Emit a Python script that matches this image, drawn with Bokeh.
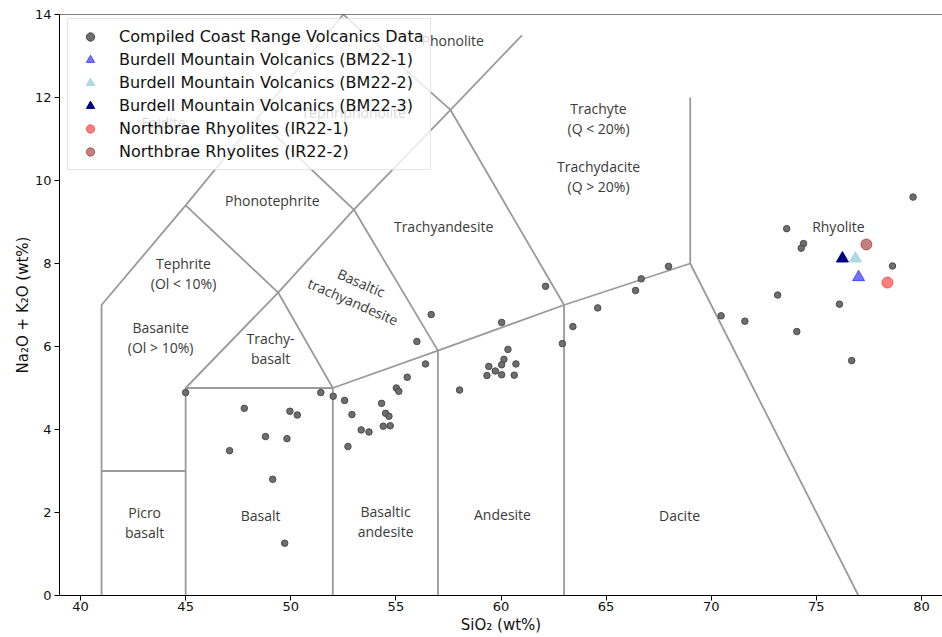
from bokeh.plotting import figure
from bokeh.models import Legend, LegendItem, FixedTicker, Span
from bokeh.core.properties import value
from bokeh.embed import file_html
from bokeh.resources import INLINE

# ---- data: Compiled Coast Range Volcanics (SiO2, Na2O+K2O wt%) ----
coast_sio2 = [45.00, 47.79, 49.96, 50.31, 48.80, 49.82, 47.09, 49.14, 49.71,
              51.43, 52.02, 52.56, 52.91, 53.35, 53.72, 52.72, 54.32, 54.51,
              54.67, 54.40, 54.73, 55.02, 55.14, 55.54, 56.41, 56.00, 56.68,
              58.03, 60.03, 60.33, 60.14, 60.03, 60.71, 59.42, 59.73, 59.33,
              60.03, 60.63, 62.12, 62.92, 63.42, 64.60, 66.40, 66.67, 67.97,
              79.60, 73.59, 74.39, 74.28, 78.62, 73.16, 76.10, 70.47, 71.60,
              74.07, 76.68]
coast_alk = [4.89, 4.51, 4.44, 4.35, 3.83, 3.78, 3.49, 2.80, 1.26,
             4.89, 4.80, 4.70, 4.36, 3.99, 3.94, 3.59, 4.63, 4.39,
             4.32, 4.08, 4.09, 5.00, 4.92, 5.26, 5.58, 6.12, 6.77,
             4.95, 6.58, 5.93, 5.69, 5.56, 5.58, 5.52, 5.41, 5.30,
             5.32, 5.31, 7.45, 6.07, 6.48, 6.93, 7.35, 7.63, 7.93,
             9.60, 8.84, 8.48, 8.37, 7.94, 7.24, 7.02, 6.74, 6.61,
             6.36, 5.66]

bm1_sio2, bm1_alk = [77.01], [7.67]
bm2_sio2, bm2_alk = [76.86], [8.12]
bm3_sio2, bm3_alk = [76.24], [8.12]
ir1_sio2, ir1_alk = [78.38], [7.54]
ir2_sio2, ir2_alk = [77.38], [8.46]

# ---- TAS field boundaries (Le Bas et al. 1986) ----
boundary_x = [
    [41, 41, 45, 48.4, 52.5],
    [41, 45],
    [45, 45, 49.4, 53, 57.6, 61],
    [45, 52],
    [52, 52, 57, 63, 69, 69],
    [45, 49.4, 52],
    [48.4, 53, 57, 57],
    [52.5, 57.6, 63, 63],
    [69, 77],
]
boundary_y = [
    [0, 7, 9.4, 11.5, 14],
    [3, 3],
    [0, 5, 7.3, 9.3, 11.7, 13.5],
    [5, 5],
    [0, 5, 5.9, 7, 8, 12],
    [9.4, 7.3, 5],
    [11.5, 9.3, 5.9, 0],
    [14, 11.7, 7, 0],
    [8, 0],
]

field_names = ["Picro\nbasalt", "Basalt", "Basaltic\nandesite", "Andesite", "Dacite",
               "Rhyolite", "Trachyte\n(Q < 20%)", "Trachydacite\n(Q > 20%)",
               "Trachyandesite", "Phonotephrite", "Tephrite\n(Ol < 10%)",
               "Basanite\n(Ol > 10%)", "Trachy-\nbasalt", "Foidite",
               "Tephriphonolite", "Phonolite"]
field_x = [43.05, 48.57, 54.51, 60.07, 68.49, 76.05, 64.64, 64.64, 57.27, 49.12,
           44.90, 43.81, 49.04, 43.95, 52.99, 57.70]
field_y = [1.76, 1.93, 1.78, 1.95, 1.93, 8.89, 11.49, 10.10, 8.89, 9.52,
           7.76, 6.22, 5.95, 11.40, 11.64, 13.37]
rot_name, rot_x, rot_y = ["Basaltic\ntrachyandesite"], [53.16], [7.31]

x_ticks = [40, 45, 50, 55, 60, 65, 70, 75, 80]
y_ticks = [0, 2, 4, 6, 8, 10, 12, 14]

p = figure(width=942, height=637, x_range=(39, 81), y_range=(0, 14),
           output_backend="svg", toolbar_location=None,
           min_border_left=59, min_border_right=0, min_border_top=14,
           min_border_bottom=42)
p.xgrid.visible = False
p.ygrid.visible = False
p.outline_line_color = None
p.add_layout(Span(location=14, dimension="width", line_color="black", line_width=1))

p.xaxis.ticker = FixedTicker(ticks=x_ticks)
p.yaxis.ticker = FixedTicker(ticks=y_ticks)
p.xaxis.axis_label = "SiO\u2082 (wt%)"
p.yaxis.axis_label = "Na\u2082O + K\u2082O (wt%)"
for ax in (p.xaxis[0], p.yaxis[0]):
    ax.major_label_text_font = "DejaVu Sans"
    ax.major_label_text_font_size = "13px"
    ax.major_label_text_color = "#111111"
    ax.axis_label_text_font = "DejaVu Sans"
    ax.axis_label_text_font_size = "15px"
    ax.axis_label_text_font_style = "normal"
    ax.axis_label_text_color = "#111111"
    ax.minor_tick_line_color = None
    ax.major_tick_in = 0
    ax.major_tick_out = 5
    ax.axis_line_color = "black"
    ax.major_tick_line_color = "black"
p.xaxis[0].major_label_standoff = 1
p.xaxis[0].axis_label_standoff = 2
p.xaxis[0].axis_label_text_line_height = 0.9
p.xaxis[0].major_label_text_line_height = 0.9
p.yaxis[0].major_label_standoff = 3
p.yaxis[0].axis_label_standoff = 0

p.multi_line(xs=boundary_x, ys=boundary_y, line_color="#9a9a9a", line_width=1.8)

p.text(x=field_x, y=field_y, text=field_names, text_font=value("Open Sans"),
       text_font_size="14px", text_align="center", text_baseline="middle",
       text_color="#3a3a3a", text_line_height=1.08)
p.text(x=rot_x, y=rot_y, text=rot_name, angle=-0.41, text_font=value("Open Sans"),
       text_font_size="14px", text_align="center", text_baseline="middle",
       text_color="#3a3a3a", text_line_height=1.08)

r_coast = p.scatter(coast_sio2, coast_alk, marker="circle", size=6.5,
                    fill_color="#6e6e6e", line_color="#4a4a4a", line_width=1)
r_bm1 = p.scatter(bm1_sio2, bm1_alk, marker="triangle", size=12,
                  fill_color="blue", fill_alpha=0.55, line_color="blue", line_alpha=0.55)
r_bm2 = p.scatter(bm2_sio2, bm2_alk, marker="triangle", size=12,
                  fill_color="lightblue", line_color="lightblue")
r_bm3 = p.scatter(bm3_sio2, bm3_alk, marker="triangle", size=12,
                  fill_color="navy", line_color="navy")
r_ir1 = p.scatter(ir1_sio2, ir1_alk, marker="circle", size=11,
                  fill_color="red", fill_alpha=0.5, line_color="red", line_alpha=0.5)
r_ir2 = p.scatter(ir2_sio2, ir2_alk, marker="circle", size=11,
                  fill_color="#8b0000", fill_alpha=0.5, line_color="#8b0000", line_alpha=0.5)

legend = Legend(items=[
    LegendItem(label="Compiled Coast Range Volcanics Data", renderers=[r_coast]),
    LegendItem(label="Burdell Mountain Volcanics (BM22-1)", renderers=[r_bm1]),
    LegendItem(label="Burdell Mountain Volcanics (BM22-2)", renderers=[r_bm2]),
    LegendItem(label="Burdell Mountain Volcanics (BM22-3)", renderers=[r_bm3]),
    LegendItem(label="Northbrae Rhyolites (IR22-1)", renderers=[r_ir1]),
    LegendItem(label="Northbrae Rhyolites (IR22-2)", renderers=[r_ir2]),
], location=(8, 425))
legend.margin = 0
legend.padding = 7
legend.spacing = 2
legend.glyph_width = 30
legend.glyph_height = 21
legend.label_height = 21
legend.label_standoff = 14
legend.label_text_font = "DejaVu Sans"
legend.label_text_font_size = "16px"
legend.label_text_color = "#111111"
legend.background_fill_alpha = 0.8
legend.border_line_color = "#cccccc"
legend.border_line_width = 1
p.add_layout(legend)

open("out.html", "w").write(file_html(p, INLINE))
